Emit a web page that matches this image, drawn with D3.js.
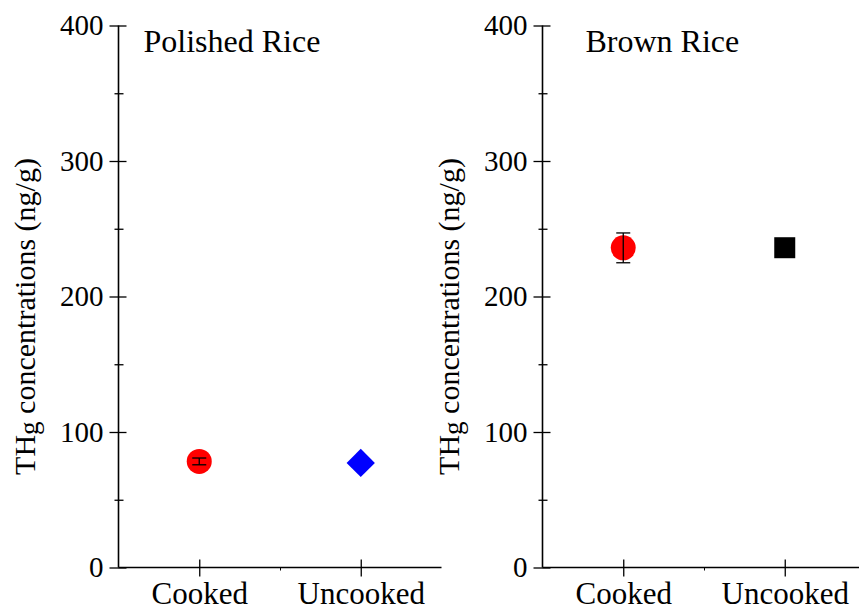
<!DOCTYPE html>
<html>
<head>
<meta charset="utf-8">
<script src="https://cdn.jsdelivr.net/npm/d3@7"></script>
<style>
  body { margin: 0; background: #fff; }
</style>
</head>
<body>
<div id="chart"></div>
<script>
var svgWidth = 859;
var svgHeight = 611;
var serif = "'Liberation Serif', 'Times New Roman', Times, 'DejaVu Serif', serif";

// data
var categories = ["Cooked", "Uncooked"];
var panelTitles = ["Polished Rice", "Brown Rice"];
var polishedMeans = [78.3, 77.2];
var polishedErrors = [2.5, null];
var brownMeans = [235.9, 236.0];
var brownErrors = [11, null];
var yTicks = [0, 100, 200, 300, 400];
var yMinorTicks = [50, 150, 250, 350];

var panels = [
    {title: panelTitles[0], means: polishedMeans, errors: polishedErrors,
     shapes: ["circle", "diamond"], colors: ["#ff0000", "#0000ff"], axisX: 118.5, titleX: 25},
    {title: panelTitles[1], means: brownMeans, errors: brownErrors,
     shapes: ["circle", "square"], colors: ["#ff0000", "#000000"], axisX: 542.5, titleX: 43}
];

var svg = d3.select("#chart")
    .append("svg")
    .attr("width", svgWidth)
    .attr("height", svgHeight);

var yScale = d3.scaleLinear()
    .domain([0, 400])
    .range([567.5, 25.5]);

panels.forEach(function(p) {
    var xScale = d3.scaleLinear()
        .domain([0.5, 2.5])
        .range([p.axisX, p.axisX + 323]);

    var g = svg.append("g");

    // y axis, ticks cross the line
    var leftAxis = d3.axisLeft(yScale)
        .tickValues(yTicks)
        .tickSize(9)
        .tickFormat(d3.format("d"));
    var yAxis = g.append("g")
        .attr("transform", `translate(${p.axisX},0)`)
        .call(leftAxis);
    yAxis.select(".domain").remove();
    yAxis.append("line")
        .attr("y1", yScale(0)).attr("y2", yScale(400))
        .attr("stroke", "#000").attr("stroke-width", 1.6);
    yAxis.selectAll(".tick line").attr("x2", 8).attr("x1", -9)
        .attr("stroke-width", 1.3);
    yAxis.selectAll(".tick text")
        .style("font-family", serif)
        .style("font-size", "29px")
        .attr("x", -15);

    var minorAxis = d3.axisLeft(yScale)
        .tickValues(yMinorTicks)
        .tickSize(4)
        .tickFormat("");
    var yMinor = g.append("g")
        .attr("transform", `translate(${p.axisX},0)`)
        .call(minorAxis);
    yMinor.select(".domain").remove();
    yMinor.selectAll(".tick line").attr("x1", -4).attr("x2", 5)
        .attr("stroke-width", 1.3);

    // x axis
    var bottomAxis = d3.axisBottom(xScale)
        .tickValues([1, 2])
        .tickSize(9)
        .tickPadding(5)
        .tickFormat((d, i) => categories[i]);
    var xAxis = g.append("g")
        .attr("transform", `translate(0,${yScale(0)})`)
        .call(bottomAxis);
    xAxis.select(".domain").remove();
    xAxis.append("line")
        .attr("x1", xScale(0.5)).attr("x2", xScale(2.5))
        .attr("stroke", "#000").attr("stroke-width", 1.6);
    xAxis.selectAll(".tick line").attr("y1", -8).attr("y2", 9)
        .attr("stroke-width", 1.3);
    xAxis.selectAll(".tick text")
        .style("font-family", serif)
        .style("font-size", "31px");

    var xMinor = g.append("g")
        .attr("transform", `translate(0,${yScale(0)})`)
        .call(d3.axisBottom(xScale).tickValues([1.5]).tickSize(3).tickFormat(""));
    xMinor.select(".domain").remove();

    // y label
    var lab = g.append("text")
        .attr("transform", `translate(${p.axisX - 84},${yScale(200) + 20}) rotate(-90)`)
        .attr("text-anchor", "middle")
        .style("font-family", serif)
        .style("font-size", "30px");
    lab.append("tspan").text("TH");
    lab.append("tspan").text("g").attr("dy", 3).style("font-size", "27px");
    lab.append("tspan").text(" concentrations (ng/g)").attr("dy", -3);

    // panel title
    g.append("text")
        .attr("x", p.axisX + p.titleX)
        .attr("y", 52)
        .style("font-family", serif)
        .style("font-size", "32px")
        .text(p.title);

    var pts = p.means.map((m, i) => ({x: i + 1, m: m, e: p.errors[i], shape: p.shapes[i], color: p.colors[i]}));

    // markers and error bars
    pts.forEach(function(d) {
        var cx = xScale(d.x), cy = yScale(d.m);
        if (d.shape === "circle") {
            g.append("circle").attr("cx", cx).attr("cy", cy).attr("r", 12.5)
                .attr("fill", d.color);
        } else if (d.shape === "diamond") {
            g.append("path")
                .attr("d", d3.symbol(d3.symbolSquare, 400)())
                .attr("transform", `translate(${cx},${cy}) rotate(45)`)
                .attr("fill", d.color);
        } else {
            g.append("path")
                .attr("d", d3.symbol(d3.symbolSquare, 441)())
                .attr("transform", `translate(${cx},${cy})`)
                .attr("fill", d.color);
        }
        if (d.e) {
            var eb = g.append("g").attr("stroke", "#000").attr("stroke-width", 1.3);
            eb.append("line").attr("x1", cx).attr("x2", cx)
                .attr("y1", yScale(d.m + d.e)).attr("y2", yScale(d.m - d.e));
            [d.m + d.e, d.m - d.e].forEach(function(v) {
                eb.append("line").attr("x1", cx - 7).attr("x2", cx + 7)
                    .attr("y1", yScale(v)).attr("y2", yScale(v));
            });
        }
    });
});
</script>
</body>
</html>
